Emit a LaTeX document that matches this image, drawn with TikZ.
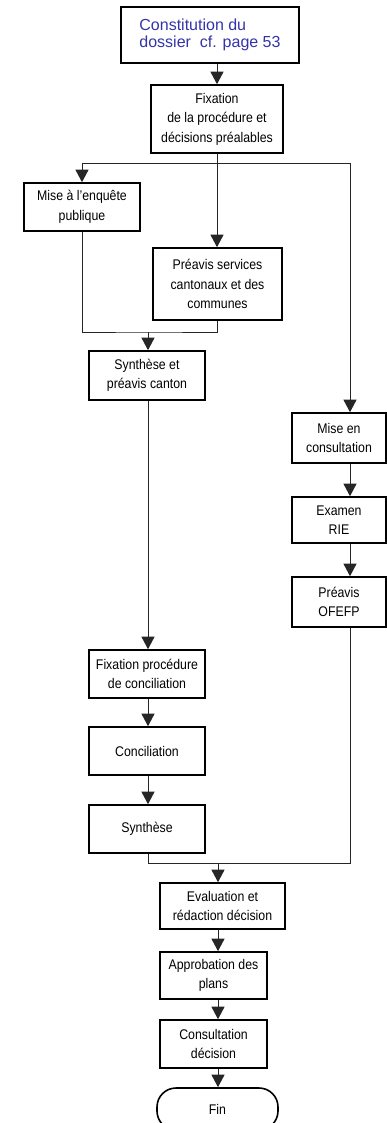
\documentclass[tikz,border=0pt]{standalone}
\usepackage{fontspec}
\setmainfont{Liberation Sans}[FakeStretch=0.88]
\newfontfamily\bluefont{Liberation Sans}
\usetikzlibrary{arrows.meta,calc}
\definecolor{titleblue}{RGB}{51,51,170}
\begin{document}
\begin{tikzpicture}[x=1pt,y=-1pt,
  box/.style={draw=black,line width=1.6pt,rectangle,inner sep=0pt,align=center,
    font=\fontsize{14}{19.5}\selectfont},
  conn/.style={line width=0.9pt,draw=black!85},
  arr/.style={conn,-{Triangle[width=13pt,length=12.5pt]}},
]
\useasboundingbox (0,0) rectangle (387,1123);
\clip (0,0) rectangle (387,1123);

\node[box,minimum width=178pt,minimum height=56pt,align=left,
  font=\bluefont\fontsize{16}{17.7}\selectfont,text=titleblue] (n1) at (210,35)
  {Constitution du\\dossier\ \ cf. page 53};
\node[box,minimum width=132pt,minimum height=68pt] (n2) at (217,119)
  {Fixation\\de la procédure et\\décisions préalables};
\node[box,minimum width=116pt,minimum height=48pt] (n3) at (82,207)
  {Mise à l'enquête\\publique};
\node[box,minimum width=129pt,minimum height=72pt] (n4) at (217.5,284)
  {Préavis services\\cantonaux et des\\communes};
\node[box,minimum width=116pt,minimum height=49pt] (n5) at (147,375.5)
  {Synthèse et\\préavis canton};
\node[box,minimum width=94pt,minimum height=50pt] (n6) at (339,438)
  {Mise en\\consultation};
\node[box,minimum width=94pt,minimum height=46pt] (n7) at (339,520)
  {Examen\\RIE};
\node[box,minimum width=94pt,minimum height=50pt] (n8) at (339,602)
  {Préavis\\OFEFP};
\node[box,minimum width=116pt,minimum height=48pt] (n9) at (147,674)
  {Fixation procédure\\de conciliation};
\node[box,minimum width=116pt,minimum height=48pt] (n10) at (147,751)
  {Conciliation};
\node[box,minimum width=116pt,minimum height=48pt] (n11) at (147,829)
  {Synthèse};
\node[box,minimum width=125pt,minimum height=46pt] (n12) at (222.5,906)
  {Evaluation et\\rédaction décision};
\node[box,minimum width=107pt,minimum height=47pt] (n13) at (213.5,975.5)
  {Approbation des\\plans};
\node[box,minimum width=107pt,minimum height=48pt] (n14) at (213.5,1044)
  {Consultation\\décision};
\node[box,rounded corners=19pt,minimum width=121pt,minimum height=42pt] (n15) at (217.5,1109)
  {Fin};

\coordinate (xA) at (82,0);
\coordinate (xB) at (217,0);
\coordinate (xC) at (350,0);
\coordinate (xD) at (148,0);
\coordinate (xE) at (218,0);
\coordinate (s1) at (217,163);
\coordinate (j1) at (148,332);
\coordinate (j2) at (218,863);

\draw[arr] (n1.south -| xB) -- (n2.north -| xB);
\draw[conn] (n2.south -| xB) -- (s1);
\draw[arr] (s1) -| (n3.north -| xA);
\draw[arr] (s1) -| (n6.north -| xC);
\draw[arr] (s1) -- (n4.north -| xB);
\draw[conn] (n3.south -| xA) |- (j1) -| (n4.south -| xB);
\draw[arr] (j1) -- (n5.north -| xD);
\draw[arr] (n5.south -| xD) -- (n9.north -| xD);
\draw[arr] (n9.south -| xD) -- (n10.north -| xD);
\draw[arr] (n10.south -| xD) -- (n11.north -| xD);
\draw[conn] (n11.south -| xD) |- (j2) -| (n8.south -| xC);
\draw[arr] (n6.south -| xC) -- (n7.north -| xC);
\draw[arr] (n7.south -| xC) -- (n8.north -| xC);
\draw[arr] (j2) -- (n12.north -| xE);
\draw[arr] (n12.south -| xE) -- (n13.north -| xE);
\draw[arr] (n13.south -| xE) -- (n14.north -| xE);
\draw[arr] (n14.south -| xE) -- (n15.north -| xE);
\end{tikzpicture}
\end{document}
